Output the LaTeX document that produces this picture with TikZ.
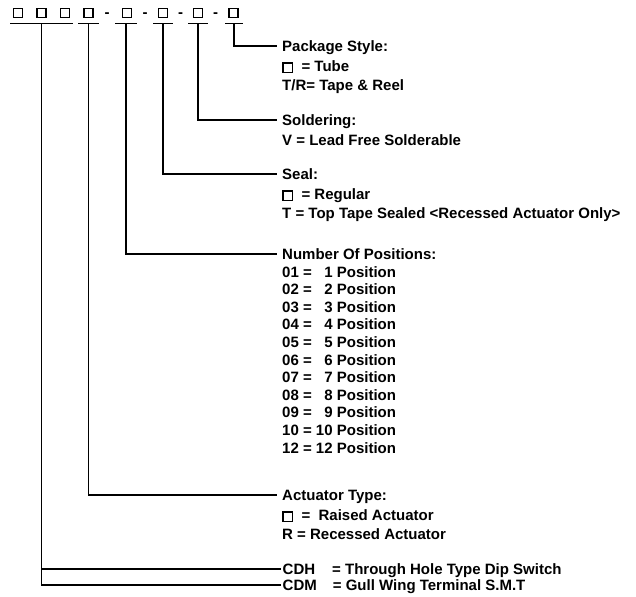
\documentclass[tikz,border=0pt]{standalone}
\usepackage{fontspec}
\setmainfont{Liberation Sans}
\usetikzlibrary{positioning}
\newcommand{\emptybox}{{\setlength{\fboxsep}{0pt}\setlength{\fboxrule}{1.5pt}\fbox{\rule{0pt}{8pt}\hspace{8pt}}}}

\begin{document}
\begin{tikzpicture}[x=1pt, y=-1pt, font=\bfseries\fontsize{15pt}{18.5pt}\selectfont]
        \useasboundingbox (0,0) rectangle (636,596);
        \begin{scope}[every node/.style={draw, line width=1.7pt, minimum size=9pt, inner sep=0pt}]
                \node (d1) at (18,13) {};
                \node (d2) at (41.5,13) {};
                \node (d3) at (65,13) {};
                \node (d4) at (88.5,13) {};
                \node (d5) at (127,13) {};
                \node (d6) at (163,13) {};
                \node (d7) at (198,13) {};
                \node (d8) at (233.5,13) {};
        \end{scope}
        \begin{scope}[every node/.style={anchor=base, inner sep=0pt}]
                \node (h1) at (107,17.5) {-};
                \node (h2) at (145,17.5) {-};
                \node (h3) at (180.5,17.5) {-};
                \node (h4) at (215.5,17.5) {-};
        \end{scope}
        \begin{scope}[line width=1.6pt]
                \draw (10,23.5) -- coordinate (u1) (73,23.5);
                \draw (78,23.5) -- coordinate (u2) (99,23.5);
                \draw (115,23.5) -- coordinate (u3) (137,23.5);
                \draw (153,23.5) -- coordinate (u4) (173,23.5);
                \draw (188,23.5) -- coordinate (u5) (208,23.5);
                \draw (225,23.5) -- coordinate (u6) (243,23.5);
        \end{scope}
        \begin{scope}[every node/.style={anchor=west, inner xsep=5pt, inner ysep=0pt, text height=10.7pt, text depth=0pt}]
                \node (pkg) at (277,46) {Package Style:};
                \node (sold) at (277,120) {Soldering:};
                \node (seal) at (277,174) {Seal:};
                \node (npos) at (277,254) {Number Of Positions:};
                \node (act) at (277,495) {Actuator Type:};
                \node [inner xsep=1.5pt] (cdh) at (281,569) {CDH\hspace{17pt}= Through Hole Type Dip Switch};
                \node [inner xsep=1.5pt] (cdm) at (281,585) {CDM\hspace{16pt}= Gull Wing Terminal S.M.T};
        \end{scope}
        \begin{scope}[every node/.style={align=left, inner sep=0pt}]
                \node [below right=9pt and 5pt of pkg.south west] (pkgopt) {\emptybox\ \ = Tube\\T/R= Tape \& Reel};
                \node [below right=9pt and 5pt of sold.south west] (soldopt) {V = Lead Free Solderable};
                \node [below right=9pt and 5pt of seal.south west] (sealopt) {\emptybox\ \ = Regular\\T = Top Tape Sealed <Recessed Actuator Only>};
                \node [below right=9pt and 5pt of act.south west] (actopt) {\emptybox\ \ = \ Raised Actuator\\R = Recessed Actuator};
        \end{scope}
        \foreach \a/\b [count=\i] in {01/1,02/2,03/3,04/4,05/5,06/6,07/7,08/8,09/9,10/10,12/12}
                \node [anchor=base west, inner sep=0pt] (pos\i) at (282,259.4+17.6*\i) {\a\ = \makebox[16.7pt][r]{\b} Position};
        \begin{scope}[line width=1.6pt]
                \draw (u6) |- (pkg);
                \draw (u5) |- (sold);
                \draw (u4) |- (seal);
                \draw (u3) |- (npos);
                \draw (u2) |- (act);
                \draw (u1) |- (cdh);
                \draw (u1) |- (cdm);
        \end{scope}
\end{tikzpicture}
\end{document}
